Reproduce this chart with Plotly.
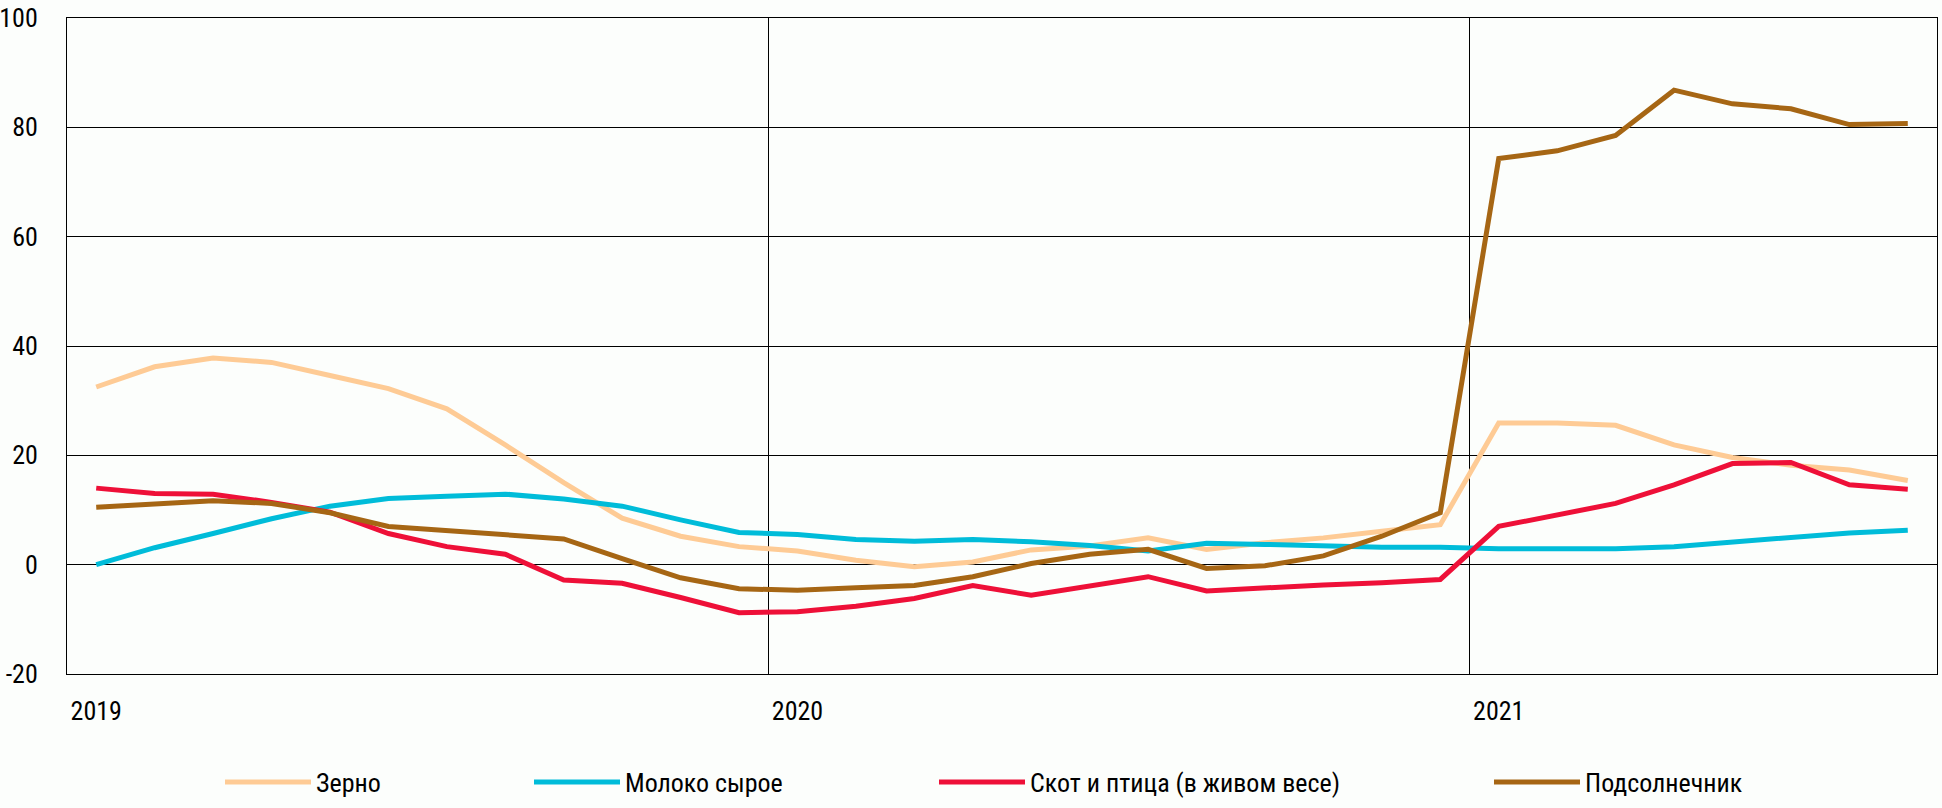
import plotly.graph_objects as go

# ---- data (monthly, Jan 2019 - Aug 2021) ----
months = list(range(32))
year_ticks = [0, 12, 24]
year_labels = ["2019", "2020", "2021"]
y_ticks = [-20, 0, 20, 40, 60, 80, 100]
y_labels = ["-20", "0", "20", "40", "60", "80", "100"]

zerno = [32.5, 36.2, 37.8, 37.0, 34.6, 32.2, 28.5, 21.9, 15.0, 8.5, 5.2, 3.3,
         2.5, 0.8, -0.4, 0.5, 2.7, 3.4, 4.9, 2.8, 4.0, 4.9, 6.1, 7.3,
         25.9, 25.9, 25.5, 21.9, 19.6, 18.2, 17.3, 15.4]
moloko = [0.0, 3.1, 5.7, 8.4, 10.7, 12.1, 12.5, 12.9, 12.0, 10.7, 8.2, 5.9,
          5.5, 4.6, 4.3, 4.6, 4.2, 3.5, 2.5, 3.9, 3.7, 3.4, 3.2, 3.2,
          2.9, 2.9, 2.9, 3.3, 4.2, 5.1, 5.8, 6.3]
skot = [14.0, 13.0, 12.9, 11.4, 9.6, 5.7, 3.3, 1.9, -2.8, -3.4, -6.0, -8.8,
        -8.6, -7.6, -6.2, -3.8, -5.6, -3.9, -2.2, -4.8, -4.2, -3.7, -3.3, -2.7,
        7.0, 9.2, 11.2, 14.6, 18.5, 18.7, 14.6, 13.8]
podsolnechnik = [10.5, 11.2, 11.7, 11.2, 9.5, 7.0, 6.2, 5.4, 4.7, 1.1, -2.4, -4.4,
                 -4.7, -4.2, -3.8, -2.2, 0.2, 1.9, 2.8, -0.7, -0.2, 1.6, 5.2, 9.5,
                 74.3, 75.7, 78.5, 86.8, 84.3, 83.4, 80.5, 80.7]

series_names = ["Зерно", "Молоко сырое", "Скот и птица (в живом весе)", "Подсолнечник"]
series_values = [zerno, moloko, skot, podsolnechnik]
series_colors = ["#FECB95", "#00BCD9", "#EE1038", "#A66614"]

# ---- layout geometry (page pixels; body margin removed via post_script) ----
W, H = 1942, 808
PL, PR, PT, PB = 67, 1937, 18, 674          # plot area on the page
legend_px = [220, 529, 934, 1489]
legend_cy = 782

FONT = "Roboto Condensed, Liberation Sans Narrow, DejaVu Sans Condensed, sans-serif"
FS = 26

fig = go.Figure()
legend_ids = ["legend", "legend2", "legend3", "legend4"]
for name, vals, col, lid in zip(series_names, series_values, series_colors, legend_ids):
    fig.add_trace(go.Scatter(
        x=months, y=vals, name=name, mode="lines",
        line=dict(color=col, width=5, shape="linear"),
        legend=lid,
    ))

pw = PR - PL
ph = PB - PT
leg_y = -(legend_cy - PB) / ph

layout_legends = {}
for lid, px in zip(legend_ids, legend_px):
    layout_legends[lid] = dict(
        x=(px - PL) / pw, y=leg_y, xanchor="left", yanchor="middle",
        orientation="h", bgcolor="rgba(0,0,0,0)", borderwidth=0,
        font=dict(family=FONT, size=FS, color="black"),
        itemwidth=86,
    )

fig.update_layout(
    width=W, height=H,
    margin=dict(l=PL, r=W - PR, t=PT, b=H - PB, pad=0, autoexpand=False),
    paper_bgcolor="#FCFEFC",
    plot_bgcolor="#FCFEFC",
    font=dict(family=FONT, size=FS, color="black"),
    showlegend=True,
    **layout_legends,
)

fig.update_xaxes(
    range=[-0.5, 31.5], automargin=False,
    tickmode="array", tickvals=year_ticks, ticktext=year_labels,
    showgrid=False, zeroline=False,
    showline=True, linecolor="black", linewidth=1, mirror=True,
    ticks="", ticklabelstandoff=14, ticklabeloverflow="allow",
    tickfont=dict(family=FONT, size=FS, color="black"),
    minor=dict(tickmode="array", tickvals=[11.5, 23.5], showgrid=True,
               gridcolor="black", gridwidth=1, ticks=""),
)
fig.update_yaxes(
    range=[-20, 100], automargin=False,
    tickmode="array", tickvals=y_ticks, ticktext=y_labels,
    showgrid=True, gridcolor="black", gridwidth=1, zeroline=False,
    showline=True, linecolor="black", linewidth=1, mirror=True,
    ticks="", ticklabelstandoff=23, ticklabeloverflow="allow",
    tickfont=dict(family=FONT, size=FS, color="black"),
)

fig.write_html(
    "out.html",
    config={"displayModeBar": False},
    post_script="document.body.style.margin='0px';document.body.style.overflow='hidden';",
)
